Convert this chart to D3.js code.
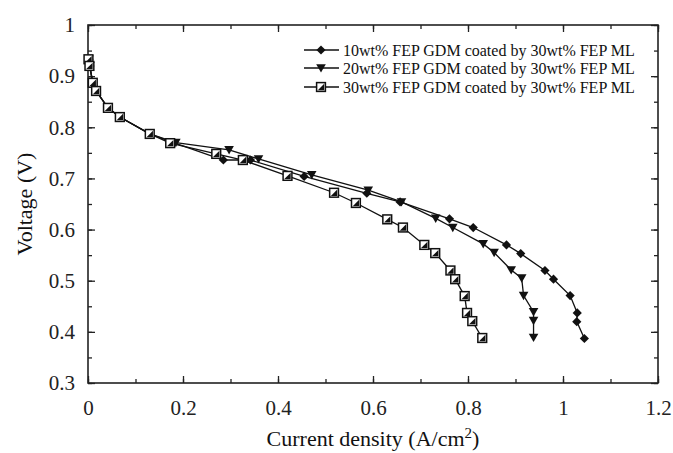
<!DOCTYPE html>
<html><head><meta charset="utf-8">
<script src="https://cdn.jsdelivr.net/npm/d3@7"></script>
<style>body{margin:0;background:#fff}svg{display:block}text{font-family:"Liberation Serif","Times New Roman",serif}</style>
</head><body><svg id="c" width="673" height="453"></svg>
<script>
const seriesNames = ["10wt% FEP GDM coated by 30wt% FEP ML","20wt% FEP GDM coated by 30wt% FEP ML","30wt% FEP GDM coated by 30wt% FEP ML"];
const s1x = [0.002,0.004,0.010,0.017,0.042,0.067,0.130,0.180,0.285,0.342,0.455,0.587,0.657,0.761,0.811,0.881,0.911,0.962,0.980,1.015,1.030,1.029,1.045];
const s1y = [0.933,0.920,0.887,0.871,0.838,0.820,0.787,0.770,0.736,0.736,0.704,0.671,0.654,0.621,0.604,0.570,0.553,0.520,0.503,0.471,0.437,0.420,0.387];
const s2x = [0.002,0.004,0.010,0.017,0.042,0.067,0.130,0.185,0.297,0.359,0.471,0.590,0.660,0.732,0.768,0.832,0.855,0.891,0.913,0.917,0.938,0.938,0.938];
const s2y = [0.933,0.920,0.887,0.871,0.838,0.820,0.787,0.770,0.756,0.738,0.707,0.677,0.654,0.622,0.604,0.572,0.555,0.521,0.505,0.471,0.439,0.422,0.389];
const s3x = [0.001,0.003,0.010,0.017,0.042,0.067,0.130,0.173,0.270,0.326,0.420,0.518,0.564,0.630,0.663,0.708,0.731,0.763,0.773,0.793,0.798,0.809,0.830];
const s3y = [0.933,0.920,0.887,0.871,0.838,0.820,0.787,0.769,0.748,0.736,0.705,0.672,0.652,0.620,0.604,0.570,0.554,0.520,0.503,0.470,0.437,0.421,0.388];
const xTicks = [0,0.2,0.4,0.6,0.8,1,1.2];
const yTicks = [0.3,0.4,0.5,0.6,0.7,0.8,0.9,1];
const xLabel = "Current density (A/cm";
const yLabel = "Voltage (V)";

const svg = d3.select("#c");
const L=88,R=658,T=25,B=383;
const x = d3.scaleLinear().domain([0,1.2]).range([L,R]);
const y = d3.scaleLinear().domain([0.3,1]).range([B,T]);
const fmt = d => String(+d.toFixed(1));
const font = "'Liberation Serif','Times New Roman',serif";
const col = "#222";

const xMinor = d3.range(0,1.21,0.1).map(v=>+v.toFixed(2));
const yMinor = d3.range(0.3,1.001,0.05).map(v=>+v.toFixed(2));

function axisG(axis, tx){ const g=svg.append("g").attr("transform",tx).call(axis);
  g.attr("font-family",null);
  g.select(".domain").remove(); g.selectAll("line").attr("stroke",col).attr("stroke-width",1.3); return g; }

axisG(d3.axisBottom(x).tickValues(xMinor).tickSize(-4).tickFormat(""),`translate(0,${B})`);
axisG(d3.axisTop(x).tickValues(xMinor).tickSize(-4).tickFormat(""),`translate(0,${T})`);
axisG(d3.axisLeft(y).tickValues(yMinor).tickSize(-4).tickFormat(""),`translate(${L},0)`);
axisG(d3.axisRight(y).tickValues(yMinor).tickSize(-4).tickFormat(""),`translate(${R},0)`);
const gx = axisG(d3.axisBottom(x).tickValues(xTicks).tickSize(-7).tickPadding(17).tickFormat(fmt),`translate(0,${B})`);
axisG(d3.axisTop(x).tickValues(xTicks).tickSize(-7).tickFormat(""),`translate(0,${T})`);
const gy = axisG(d3.axisLeft(y).tickValues(yTicks).tickSize(-7).tickPadding(13).tickFormat(fmt),`translate(${L},0)`);
axisG(d3.axisRight(y).tickValues(yTicks).tickSize(-7).tickFormat(""),`translate(${R},0)`);
svg.selectAll(".tick text").style("font-family",font).attr("font-size",21).attr("fill","#222");
gx.selectAll(".tick text").attr("dy","0.71em");

svg.append("rect").attr("x",L).attr("y",T).attr("width",R-L).attr("height",B-T)
  .attr("fill","none").attr("stroke",col).attr("stroke-width",1.6);

const xt = svg.append("text").attr("x",(L+R)/2).attr("y",446).attr("text-anchor","middle")
  .style("font-family",font).attr("font-size",22).attr("fill","#111");
xt.append("tspan").text(xLabel);
xt.append("tspan").attr("dy",-8).attr("font-size",15).text("2");
xt.append("tspan").attr("dy",8).text(")");
svg.append("text").attr("transform",`translate(32,${(T+B)/2}) rotate(-90)`).attr("text-anchor","middle")
  .style("font-family",font).attr("font-size",22).attr("fill","#111").text(yLabel);

const line = d3.line().x(d=>x(d[0])).y(d=>y(d[1]));
const data = [d3.zip(s1x,s1y), d3.zip(s2x,s2y), d3.zip(s3x,s3y)];

function marker(g, type){
  if(type===0){ g.append("path").attr("d","M0,-4.6L4.6,0L0,4.6L-4.6,0Z").attr("fill","#111"); }
  else if(type===1){ g.append("path").attr("d","M-4.8,-3.8L4.8,-3.8L0,4.6Z").attr("fill","#111"); }
  else { g.append("rect").attr("x",-4.4).attr("y",-4.4).attr("width",8.8).attr("height",8.8).attr("fill","#fff").attr("stroke","#111").attr("stroke-width",1.5);
         g.append("path").attr("d","M-3.2,3.2L3.2,3.2L3.2,-3.2Z").attr("fill","#111"); }
}

data.forEach((d,i)=>{
  svg.append("path").datum(d).attr("d",line).attr("fill","none").attr("stroke","#111").attr("stroke-width",1.3);
});
data.forEach((d,i)=>{
  d.forEach(p=>{ marker(svg.append("g").attr("transform",`translate(${x(p[0])},${y(p[1])})`), i); });
});

const lg = [50,68,87];
seriesNames.forEach((n,i)=>{
  svg.append("line").attr("x1",304).attr("x2",339).attr("y1",lg[i]).attr("y2",lg[i]).attr("stroke","#111").attr("stroke-width",1.3);
  marker(svg.append("g").attr("transform",`translate(321,${lg[i]})`), i);
  svg.append("text").attr("x",343).attr("y",lg[i]).attr("dy","0.35em").style("font-family",font)
    .attr("font-size",16).attr("fill","#111").text(n);
});
</script></body></html>
